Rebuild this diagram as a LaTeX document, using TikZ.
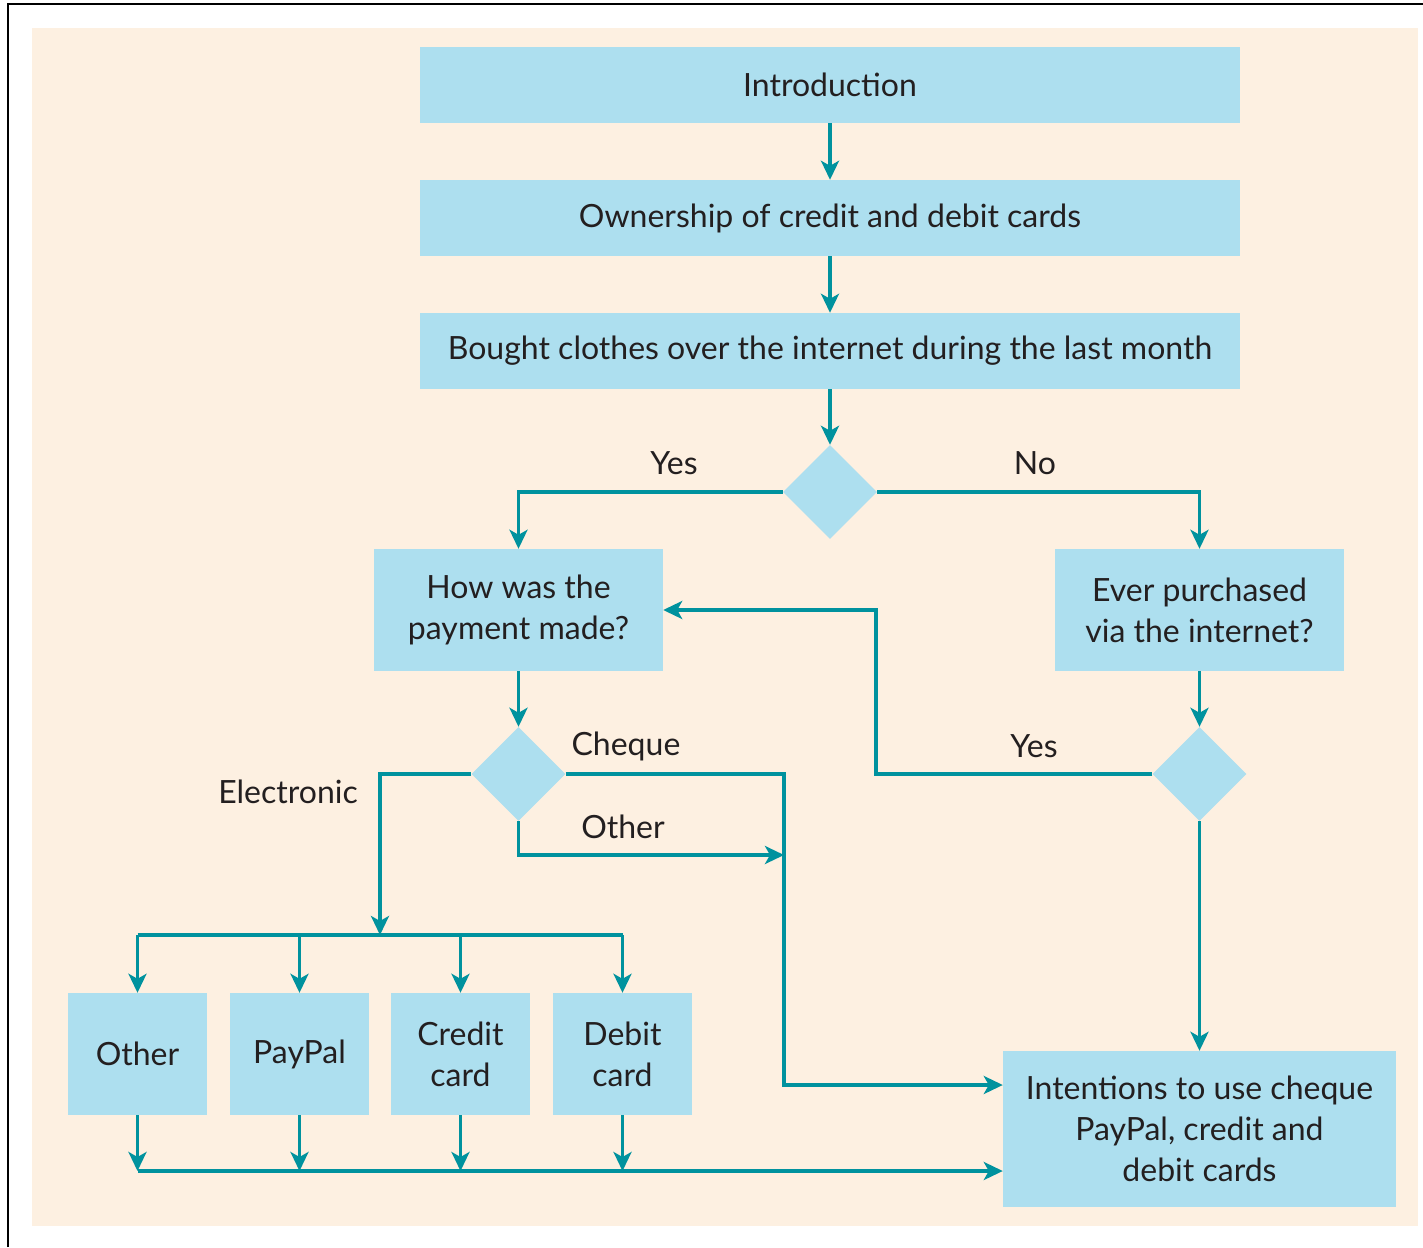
\documentclass[tikz,border=0pt]{standalone}
\usepackage{fontspec}
\setmainfont{Lato}
\usetikzlibrary{shapes.geometric}
\usetikzlibrary{arrows.meta}
\definecolor{boxblue}{HTML}{ADDFEF}
\definecolor{flowteal}{HTML}{00929E}
\definecolor{bgbeige}{HTML}{FDF0E1}
\definecolor{txtgrey}{HTML}{231F20}

\begin{document}
\begin{tikzpicture}[x=1pt,y=-1pt,
    box/.style={fill=boxblue,text=txtgrey,align=center,inner sep=0pt,font=\fontsize{32}{41}\selectfont},
    choice/.style={diamond,fill=boxblue,minimum width=94pt,minimum height=94pt,inner sep=0pt},
    link/.style={draw=flowteal,line width=3.4pt},
    flow/.style={link,-{Stealth[length=19pt,width=18pt,inset=5pt]}},
    lbl/.style={text=txtgrey,font=\fontsize{32}{38}\selectfont}]
    \useasboundingbox (0,0) rectangle (1423,1247);
    \fill[bgbeige] (32,28) rectangle (1418,1226); % 背景
    \draw[line width=2pt] (8,1247) -- (8,4) -- (1423,4); % 边框

    % 上面三个框
    \node[box,minimum width=820pt,minimum height=76pt] (intro) at (830,85) {Introduction};
    \node[box,minimum width=820pt,minimum height=76pt] (own) at (830,218) {Ownership of credit and debit cards};
    \node[box,minimum width=820pt,minimum height=76pt] (bought) at (830,351) {Bought clothes over the internet during the last month};
    \node[choice] (q1) at (830,492) {};

    \node[box,minimum width=289pt,minimum height=122pt] (how) at (518.5,610) {How was the\\payment made?};
    \node[box,minimum width=289pt,minimum height=122pt] (ever) at (1199.5,610) {Ever purchased\\via the internet?};
    \node[choice] (q2) at (518.5,774) {};
    \node[choice] (q3) at (1199.5,774) {};

    % 下面的框
    \node[box,minimum width=139pt,minimum height=122pt] (oth) at (137.5,1054) {Other};
    \node[box,minimum width=139pt,minimum height=122pt] (pay) at (299.5,1054) {PayPal};
    \node[box,minimum width=139pt,minimum height=122pt] (cred) at (460.5,1054) {Credit\\card};
    \node[box,minimum width=139pt,minimum height=122pt] (deb) at (622.5,1054) {Debit\\card};
    \node[box,minimum width=393pt,minimum height=156pt] (intent) at (1199.5,1129) {Intentions to use cheque\\PayPal, credit and\\debit cards};

    \draw[flow] (intro) -- (own);
    \draw[flow] (own) -- (bought);
    \draw[flow] (bought) -- (q1);
    \draw[flow] (q1.west) -| (how.north);
    \draw[flow] (q1.east) -| (ever.north);
    \draw[flow] (how) -- (q2);
    \draw[flow] (ever) -- (q3);
    \draw[flow] (q3) -- (intent);

    \coordinate (yesturn) at (876,774);
    \draw[flow] (q3.west) -- (yesturn) |- (how.east);

    \coordinate (chqturn) at (784,774);
    \path (intent.west) ++(0,-44) coordinate (chqend);
    \draw[flow] (q2.east) -- (chqturn) |- (chqend);
    \coordinate (othend) at (784,855);
    \draw[flow] (q2.south) |- (othend);

    \coordinate (elbus) at (380,935);
    \draw[flow] (q2.west) -| (elbus);
    \coordinate (busL) at (137.5,935);
    \coordinate (busR) at (622.5,935);
    \draw[link] (busL) -- (busR);
    \foreach \b in {oth,pay,cred,deb}
        \draw[flow] (\b.north |- busL) -- (\b.north);
    \coordinate (lowL) at (137.5,1171);
    \foreach \b in {oth,pay,cred,deb}
        \draw[flow] (\b.south) -- (\b.south |- lowL);
    \draw[flow] (lowL) -- (intent.west |- lowL);

    % 标签
    \node[lbl] (lyes) at (674,463) {Yes};
    \node[lbl] (lno) at (1035,463) {No};
    \node[lbl] (lyes2) at (1034,746) {Yes};
    \node[lbl] (lchq) at (626,746) {Cheque};
    \node[lbl] (loth) at (623,827) {Other};
    \node[lbl] (lel) at (288,792) {Electronic};
\end{tikzpicture}
\end{document}
